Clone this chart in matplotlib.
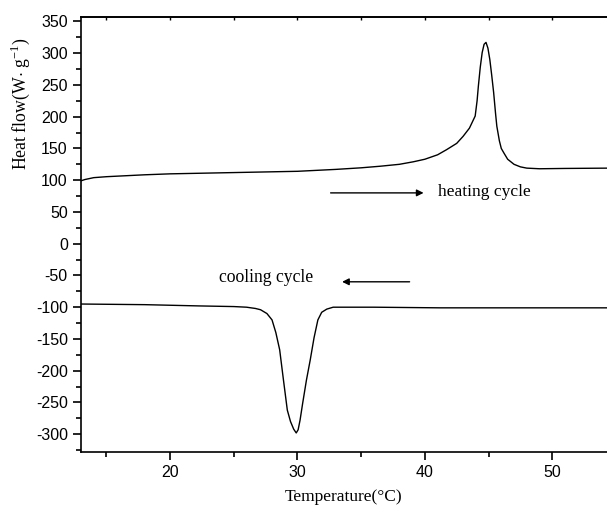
import matplotlib
matplotlib.use("Agg")
import matplotlib.pyplot as plt
from matplotlib.ticker import MultipleLocator

plt.rcParams["mathtext.fontset"] = "custom"
plt.rcParams["mathtext.rm"] = "Liberation Serif"
plt.rcParams["axes.unicode_minus"] = False

# heating curve (temperature in C, heat flow)
heat_t = [13.0, 13.3, 14.0, 15.0, 16.5, 18.0, 20.0, 25.0, 30.0, 33.0, 35.0, 36.5,
          38.0, 39.1, 40.0, 41.0, 41.7, 42.5, 43.0, 43.5, 43.95, 44.1, 44.2, 44.35,
          44.5, 44.65, 44.8, 44.95, 45.1, 45.25, 45.4, 45.55, 45.65, 45.85, 46.0,
          46.2, 46.5, 47.0, 47.5, 48.0, 49.0, 51.0, 54.5]
heat_q = [99, 101, 104, 105.5, 107, 108.5, 110, 112, 114, 117, 119.5, 122,
          125, 129, 133, 140, 148, 158, 169, 182, 201, 225, 248, 278,
          301, 314, 317, 308, 290, 265, 238, 205, 185, 162, 150,
          143, 133, 125, 121, 119, 118, 118.5, 119]

# cooling curve
cool_t = [13.0, 18.0, 22.3, 25.0, 26.0, 26.7, 27.1, 27.6, 28.0, 28.3, 28.6, 28.9,
          29.2, 29.45, 29.7, 29.9, 30.05, 30.2, 30.4, 30.7, 31.0, 31.3, 31.6, 31.9,
          32.3, 32.8, 36.0, 41.2, 48.0, 54.5]
cool_q = [-95, -96, -98, -99, -100, -102, -104, -110, -120, -140, -167, -215,
          -262, -280, -292, -298, -293, -278, -252, -215, -183, -148, -120, -108,
          -103, -100, -100, -101, -101, -101]

serif = "Liberation Serif"
sans = "Liberation Sans"

fig = plt.figure(figsize=(6.07, 5.07), dpi=100)
ax = fig.add_axes([0.1334, 0.1085, 0.8666, 0.858])

ax.plot(heat_t, heat_q, color="black", lw=1.0)
ax.plot(cool_t, cool_q, color="black", lw=1.0)

ax.annotate("", xy=(39.9, 80), xytext=(32.6, 80),
            arrowprops=dict(arrowstyle="-|>", color="black", lw=1.0,
                            mutation_scale=10, shrinkA=0, shrinkB=0))
ax.text(41.0, 82, "heating cycle", fontfamily=serif, fontsize=12.6, va="center", ha="left")

ax.annotate("", xy=(33.5, -60), xytext=(38.8, -60),
            arrowprops=dict(arrowstyle="-|>", color="black", lw=1.0,
                            mutation_scale=10, shrinkA=0, shrinkB=0))
ax.text(23.8, -54, "cooling cycle", fontfamily=serif, fontsize=12.7, va="center", ha="left")

ax.set_xlim(13.0, 54.3)
ax.set_ylim(-328, 357)
ax.xaxis.set_major_locator(MultipleLocator(10))
ax.xaxis.set_minor_locator(MultipleLocator(5))
ax.yaxis.set_major_locator(MultipleLocator(50))
ax.yaxis.set_minor_locator(MultipleLocator(25))

ax.spines["right"].set_visible(False)
for s in ["left", "bottom", "top"]:
    ax.spines[s].set_linewidth(1.2)

ax.tick_params(axis="both", which="major", direction="out", length=6, width=1.2,
               labelsize=11.5)
ax.tick_params(axis="both", which="minor", direction="out", length=3.5, width=1.2)
for lab in ax.get_xticklabels() + ax.get_yticklabels():
    lab.set_fontfamily(sans)

# small inward ticks along the top edge
top = ax.secondary_xaxis("top")
top.xaxis.set_major_locator(MultipleLocator(5))
top.tick_params(direction="in", length=2.5, width=1.0, labeltop=False)
top.spines["top"].set_linewidth(1.2)

ax.set_xlabel("Temperature(\u00b0C)", fontfamily=serif, fontsize=12.5, labelpad=6)
ax.set_ylabel("Heat flow(W$\\cdot$ g$^{\\mathrm{-1}}$)", fontfamily=serif, fontsize=12.8)
ax.yaxis.set_label_coords(-0.093, 0.80)

fig.savefig("out.png", dpi=100)
